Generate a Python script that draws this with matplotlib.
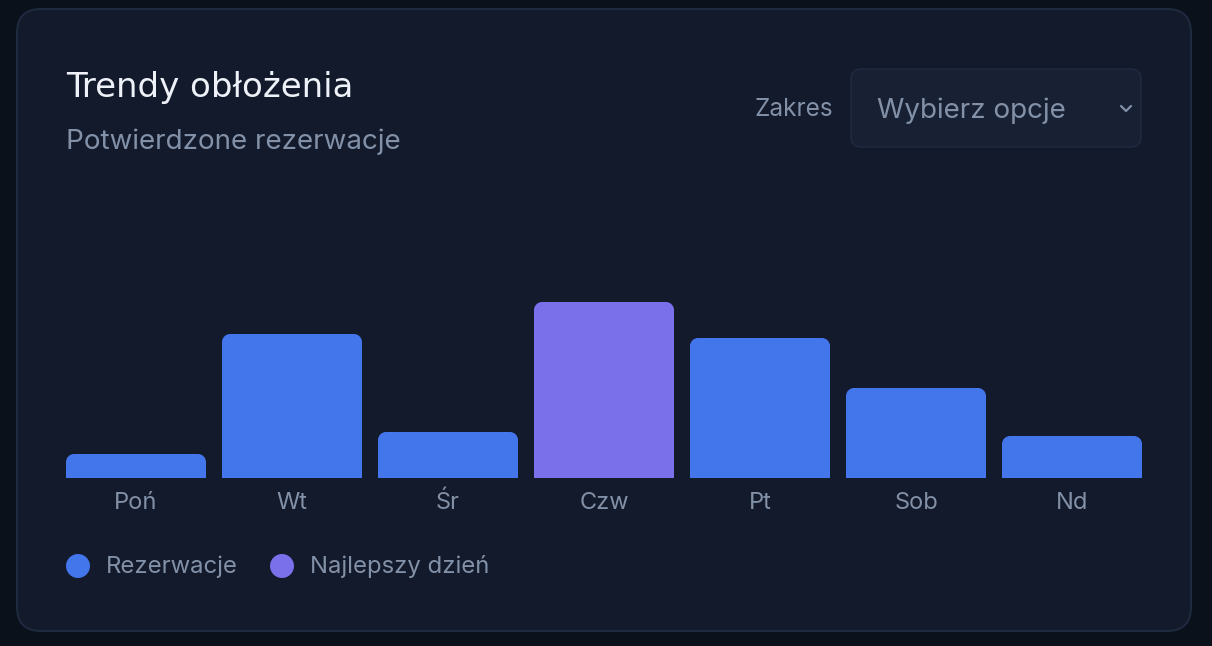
"""
Wykres słupkowy: trendy obłożenia (potwierdzone rezerwacje wg dnia tygodnia).
"""

import matplotlib
matplotlib.use("Agg")
import matplotlib.pyplot as plt
from matplotlib.patches import FancyBboxPatch, PathPatch, Circle
from matplotlib.path import Path

# ---------- Dane ----------
days = ["Poń", "Wt", "Śr", "Czw", "Pt", "Sob", "Nd"]
bookings = [12, 72, 23, 88, 70, 45, 21]
best_day = "Czw"
y_max = 144

title = "Trendy obłożenia"
subtitle = "Potwierdzone rezerwacje"
range_label = "Zakres"
range_placeholder = "Wybierz opcje"
legend_labels = ["Rezerwacje", "Najlepszy dzień"]

# ---------- Style ----------
BG = "#0b111b"
CARD = "#121a2b"
CARD_EDGE = "#1f2a3e"
BLUE = "#4375eb"
PURPLE = "#7a70ea"
TITLE_C = "#eef2f8"
MUTED = "#8391a8"
W, H = 1212, 646

plt.rcParams["font.family"] = ["Inter", "DejaVu Sans"]

fig = plt.figure(figsize=(W / 100, H / 100), dpi=100)
fig.patch.set_facecolor(BG)

# warstwa dekoracji w pikselach
deco = fig.add_axes([0, 0, 1, 1])
deco.set_xlim(0, W)
deco.set_ylim(H, 0)
deco.axis("off")

deco.add_patch(FancyBboxPatch((17, 9), 1174, 622,
                              boxstyle="round,pad=0,rounding_size=24",
                              facecolor=CARD, edgecolor=CARD_EDGE, linewidth=1.5))

deco.text(66, 97, title, fontsize=24.5, family=["DejaVu Sans"],
          color=TITLE_C, ha="left", va="baseline")
deco.text(66, 149, subtitle, fontsize=20, color=MUTED, ha="left", va="baseline")

# wybór zakresu
deco.text(833, 109, range_label, fontsize=17.5, color=MUTED, ha="right", va="center")
deco.add_patch(FancyBboxPatch((851, 69), 290, 78,
                              boxstyle="round,pad=0,rounding_size=10",
                              facecolor="#182134", edgecolor="#222c40", linewidth=1))
deco.text(877, 111, range_placeholder, fontsize=20, color=MUTED, ha="left", va="center")
deco.plot([1121, 1126, 1131], [106, 111, 106], color=MUTED, linewidth=1.6,
          solid_capstyle="round", solid_joinstyle="round")

# legenda
legend_x = [78, 282]
for lx, lab, col in zip(legend_x, legend_labels, [BLUE, PURPLE]):
    deco.add_patch(Circle((lx, 566), 12, facecolor=col, edgecolor="none"))
    deco.text(lx + 28, 567, lab, fontsize=17.2, color=MUTED, ha="left", va="center")

# ---------- Wykres ----------
x0, x1, base, ax_h = 66, 1142, 478, 288
ax = fig.add_axes([x0 / W, (H - base) / H, (x1 - x0) / W, ax_h / H])
ax.set_facecolor("none")
step_px, bar_px, r_px = 156, 140, 8
bw = bar_px / step_px
ax.set_xlim(-bw / 2, len(days) - 1 + bw / 2)
ax.set_ylim(0, y_max)
for s in ax.spines.values():
    s.set_visible(False)
ax.tick_params(length=0, labelsize=17, labelcolor=MUTED, pad=10)
ax.set_yticks([])
ax.set_xticks(range(len(days)))
ax.set_xticklabels(days)

# słupki z zaokrąglonymi górnymi rogami
rx = r_px / step_px
ry = r_px * y_max / ax_h
k = 0.5523
for i, (d, v) in enumerate(zip(days, bookings)):
    col = PURPLE if d == best_day else BLUE
    l, r = i - bw / 2, i + bw / 2
    verts = [
        (l, 0), (l, v - ry),
        (l, v - ry + k * ry), (l + rx - k * rx, v), (l + rx, v),
        (r - rx, v),
        (r - rx + k * rx, v), (r, v - ry + k * ry), (r, v - ry),
        (r, 0), (l, 0),
    ]
    codes = [Path.MOVETO, Path.LINETO,
             Path.CURVE4, Path.CURVE4, Path.CURVE4,
             Path.LINETO,
             Path.CURVE4, Path.CURVE4, Path.CURVE4,
             Path.LINETO, Path.CLOSEPOLY]
    ax.add_patch(PathPatch(Path(verts, codes), facecolor=col, edgecolor="none"))

fig.savefig("out.png", dpi=100, facecolor=BG)
plt.close(fig)
